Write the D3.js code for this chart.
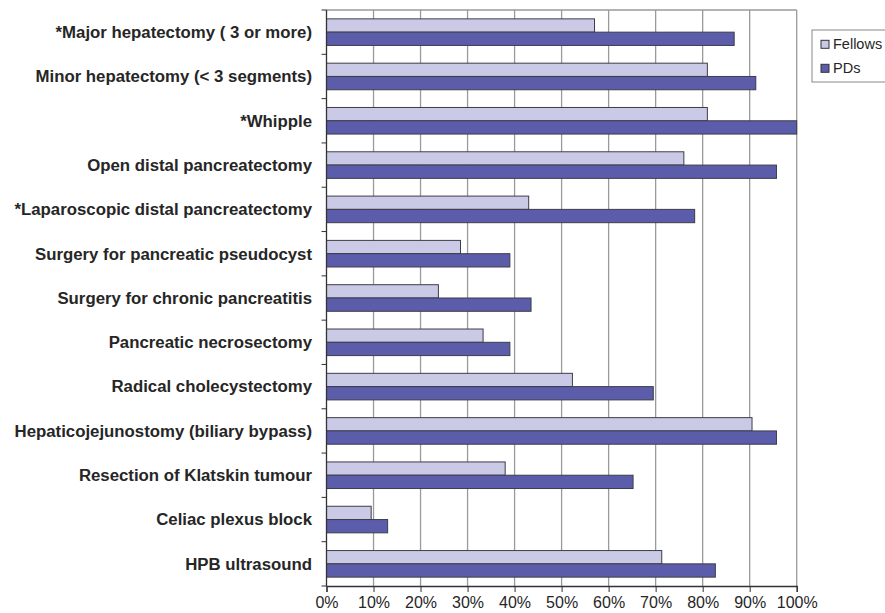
<!DOCTYPE html>
<html>
<head>
<meta charset="utf-8">
<script src="https://cdn.jsdelivr.net/npm/d3@7/dist/d3.min.js"></script>
<style>
  html, body { margin: 0; padding: 0; background: #fff; }
  svg { display: block; font-family: "Liberation Sans", Arial, sans-serif; }
</style>
</head>
<body>
<svg id="chart" width="885" height="613"></svg>
<script>
// Procedures surveyed
const categories = [
  "*Major hepatectomy ( 3 or more)",
  "Minor hepatectomy (< 3 segments)",
  "*Whipple",
  "Open distal pancreatectomy",
  "*Laparoscopic distal pancreatectomy",
  "Surgery for pancreatic pseudocyst",
  "Surgery for chronic pancreatitis",
  "Pancreatic necrosectomy",
  "Radical cholecystectomy",
  "Hepaticojejunostomy (biliary bypass)",
  "Resection of Klatskin tumour",
  "Celiac plexus block",
  "HPB ultrasound"
];

// Share of respondents (%)
const fellows = [57, 81, 81, 76, 43, 28.5, 23.8, 33.3, 52.3, 90.5, 38, 9.5, 71.3];
const pds     = [86.7, 91.3, 100, 95.7, 78.3, 39, 43.5, 39, 69.5, 95.7, 65.2, 13, 82.7];

const seriesNames = ["Fellows", "PDs"];
const seriesColors = ["#cacae6", "#5b5dab"];
const xTicks = [0, 10, 20, 30, 40, 50, 60, 70, 80, 90, 100];

const svg = d3.select("#chart");
const plotLeft = 326.5, plotRight = 796.7, plotTop = 10, plotBottom = 586;

const x = d3.scaleLinear().domain([0, 100]).range([plotLeft, plotRight]);
const y = d3.scaleBand().domain(categories).range([plotTop, plotBottom]).paddingInner(0.4).paddingOuter(0.2);
const ySub = d3.scaleBand().domain(seriesNames).range([0, y.bandwidth()]);

// Vertical gridlines
svg.append("g")
  .selectAll("line")
  .data(xTicks.slice(1))
  .join("line")
  .attr("x1", d => x(d)).attr("x2", d => x(d))
  .attr("y1", plotTop).attr("y2", plotBottom)
  .attr("stroke", "#9a9a9a").attr("stroke-width", 1.3);

// Top border
svg.append("line")
  .attr("x1", plotLeft).attr("x2", plotRight).attr("y1", plotTop).attr("y2", plotTop)
  .attr("stroke", "#9a9a9a").attr("stroke-width", 1.3);

// Bars
const rows = categories.map((c, i) => ({ c, vals: [fellows[i], pds[i]] }));
const rowG = svg.append("g").selectAll("g")
  .data(rows)
  .join("g")
  .attr("transform", d => `translate(0,${y(d.c)})`);

rowG.selectAll("rect")
  .data(d => d.vals.map((v, k) => ({ v, k })))
  .join("rect")
  .attr("x", x(0))
  .attr("y", d => ySub(seriesNames[d.k]))
  .attr("width", d => x(d.v) - x(0))
  .attr("height", ySub.bandwidth())
  .attr("fill", d => seriesColors[d.k])
  .attr("stroke", "#3d3d4a")
  .attr("stroke-width", 1);

// Category axis (left)
const yAxis = svg.append("g")
  .attr("transform", `translate(${plotLeft},0)`);
yAxis.append("line")
  .attr("x1", 0).attr("x2", 0).attr("y1", plotTop).attr("y2", plotBottom)
  .attr("stroke", "#333").attr("stroke-width", 1.3);
const boundaries = d3.range(categories.length + 1).map(i => plotTop + i * (plotBottom - plotTop) / categories.length);
yAxis.selectAll("line.tick")
  .data(boundaries)
  .join("line")
  .attr("class", "tick")
  .attr("x1", -5).attr("x2", 0)
  .attr("y1", d => d).attr("y2", d => d)
  .attr("stroke", "#333");
yAxis.selectAll("text")
  .data(categories)
  .join("text")
  .attr("x", -14.5)
  .attr("y", d => y(d) + y.bandwidth() / 2)
  .attr("dy", "0.35em")
  .attr("text-anchor", "end")
  .attr("font-size", 16.8)
  .attr("font-weight", "bold")
  .attr("fill", "#262626")
  .text(d => d);

// Value axis (bottom)
const xAxis = svg.append("g")
  .attr("transform", `translate(0,${plotBottom})`)
  .call(d3.axisBottom(x).tickValues(xTicks).tickFormat(d => d + "%").tickSize(6).tickPadding(4.6));
xAxis.select(".domain").attr("stroke", "#333").attr("stroke-width", 1.3);
xAxis.selectAll(".tick line").attr("stroke", "#333");
xAxis.selectAll("text")
  .attr("font-size", 16)
  .attr("fill", "#262626")
  .attr("font-family", "'Liberation Sans', Arial, sans-serif");

// Legend
const legend = svg.append("g").attr("transform", "translate(812,30)");
legend.append("rect")
  .attr("x", 0).attr("y", 0).attr("width", 85).attr("height", 52)
  .attr("fill", "#fff").attr("stroke", "#888").attr("stroke-width", 1);
seriesNames.forEach((name, i) => {
  const g = legend.append("g").attr("transform", `translate(9,${14.3 + i * 24})`);
  g.append("rect")
    .attr("x", 0).attr("y", -4).attr("width", 8).attr("height", 8)
    .attr("fill", seriesColors[i]).attr("stroke", "#333").attr("stroke-width", 1);
  g.append("text")
    .attr("x", 12).attr("y", 0).attr("dy", "0.35em")
    .attr("font-size", 14.5).attr("fill", "#262626")
    .text(name);
});
</script>
</body>
</html>
